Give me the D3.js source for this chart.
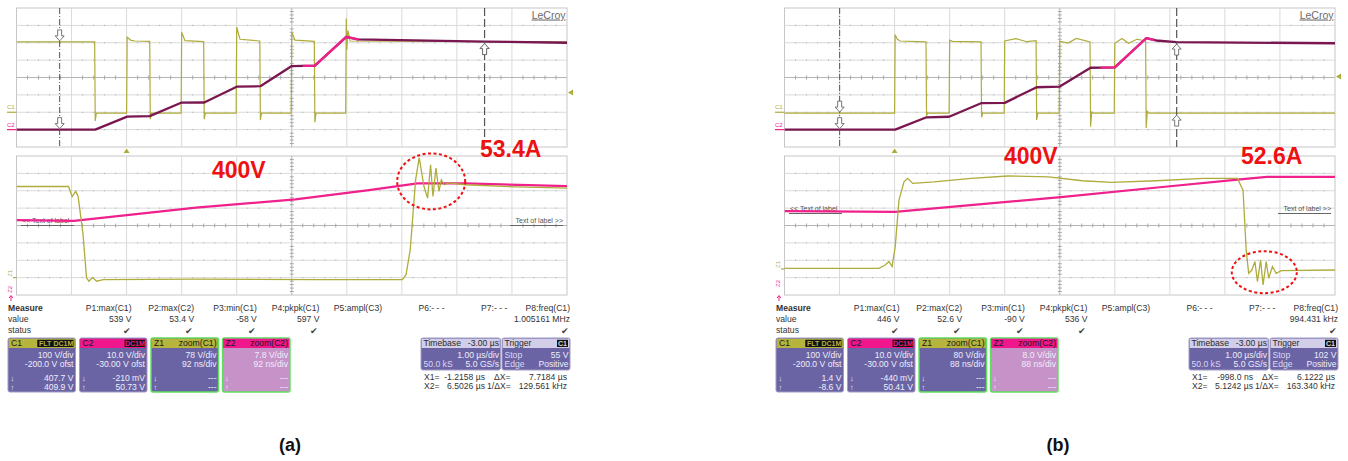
<!DOCTYPE html>
<html>
<head>
<meta charset="utf-8">
<script src="https://cdn.jsdelivr.net/npm/d3@7"></script>
<style>
  html, body { margin: 0; padding: 0; background: #fff; }
  svg { display: block; }
  text { font-family: "Liberation Sans", Arial, sans-serif; }
</style>
</head>
<body>
<svg id="chart" width="1348" height="461"></svg>
<script>
// ---------- Acquisition records ----------
// Main traces: [time µs, value]; C1 in volts, C2 in amps (current probe).
const c1A = [[-2, 405], [-0.58, 405], [-0.57, -50], [-0.55, -5], [0.0, -5], [0.01, 432], [0.08, 414], [0.15, 410],
  [0.42, 408], [0.43, -40], [0.45, -5], [0.99, -5], [1.0, 461], [1.06, 412], [1.40, 407], [1.41, -40], [1.43, -5],
  [1.99, -5], [2.0, 490], [2.06, 420], [2.42, 410], [2.43, -45], [2.45, -5], [2.99, -5], [3.0, 461], [3.06, 415],
  [3.41, 408], [3.42, -58], [3.44, -5], [3.98, -5], [3.99, 539], [4.0, 360], [4.02, 470], [4.06, 410], [8, 405]];
const c2A = [[-2, 0], [-0.57, 0], [0.01, 7.5], [0.42, 7.8], [0.99, 15.5], [1.41, 15.6], [2.0, 24.7], [2.43, 25.0],
  [3.0, 36.6], [3.42, 36.8], [3.99, 53.4], [4.2, 52.0], [6.5, 50.7], [8, 50.0]];

const c1B = [[-2, -5], [0.0, -5], [0.01, 446], [0.05, 420], [0.1, 410], [0.57, 405], [0.58, -20], [0.6, -5],
  [0.99, -5], [1.0, 415], [1.05, 408], [1.57, 405], [1.58, -30], [1.6, -5], [1.99, -5], [2.0, 410], [2.2, 424],
  [2.4, 406], [2.57, 412], [2.58, -45], [2.6, -5], [2.99, -5], [3.0, 408], [3.15, 398], [3.3, 425], [3.55, 405],
  [3.56, -83], [3.58, 0], [3.6, -5], [3.99, -5], [4.0, 397], [4.13, 425], [4.25, 397], [4.4, 420], [4.56, 410],
  [4.57, -90], [4.59, 5], [4.62, -5], [8, -5]];
const c2B = [[-2, 0], [0.01, 0], [0.58, 7.1], [0.99, 7.4], [1.57, 15.2], [2.0, 15.4], [2.58, 24.4], [3.0, 24.8],
  [3.56, 35.6], [4.0, 35.8], [4.57, 52.6], [4.75, 51.3], [5.12, 50.4], [8, 49.7]];

// Zoom traces: [time ns inside zoom window, value]
const z1A = [[0, 409], [87, 409], [93, 364], [99, 387], [103, 364], [111, 200], [117, -1], [121, -16], [127, 0],
  [134, -16], [145, -9], [300, -7], [500, -9], [645, -9], [651, 13], [658, 125], [667, 439], [673, 539], [681, 409],
  [687, 357], [692, 507], [696, 364], [701, 492], [706, 387], [710, 439], [715, 417], [722, 425], [750, 417],
  [836, 407], [920, 402]];
const z2A = [[0, 35.4], [96, 35.1], [300, 41.0], [466, 44.7], [589, 48.9], [670, 51.9], [750, 51.9], [840, 51.2], [920, 50.7]];

const z1B = [[0, 3], [151, 3], [161, 18], [167, 34], [172, 11], [177, 103], [183, 317], [191, 401], [197, 417],
  [205, 394], [239, 401], [298, 417], [357, 428], [422, 424], [476, 406], [523, 399], [594, 406], [670, 417],
  [724, 417], [733, 363], [738, 87], [742, -20], [747, -5], [752, 34], [756, -58], [761, 41], [765, -74], [770, 34],
  [774, -43], [780, 11], [786, -20], [794, -8], [880, -5]];
const z2B = [[0, 35.4], [177, 35.1], [446, 42.0], [600, 46.4], [741, 50.4], [771, 51.2], [880, 51.2]];

// Scope settings per panel
const voltsPerDivC1 = 100, offsetC1 = -200;
const ampsPerDivC2 = 10, offsetC2 = -30;
const zoomA = { z1PerDiv: 78, z2PerDiv: 7.8, nsPerDiv: 92 };
const zoomB = { z1PerDiv: 80, z2PerDiv: 8.0, nsPerDiv: 88 };
const cursorsA = [-1.2158, 6.5026];
const cursorsB = [-0.998, 5.1242];
const zoomWindowA = [3.2, 4.22];
const zoomWindowB = [3.74, 4.72];

// Annotation texts
const voltLabel = "400V";
const peakA = 53.4, peakB = 52.6;
const panelLabels = ["(a)", "(b)"];

// Measurement table
const measureNames = ["P1:max(C1)", "P2:max(C2)", "P3:min(C1)", "P4:pkpk(C1)", "P5:ampl(C3)", "P6:- - -", "P7:- - -", "P8:freq(C1)"];
const measureValuesA = ["539 V", "53.4 V", "-58 V", "597 V", "", "", "", "1.005161 MHz"];
const measureValuesB = ["446 V", "52.6 V", "-90 V", "536 V", "", "", "", "994.431 kHz"];
const measureStatus = [1, 1, 1, 1, 0, 0, 0, 1];

const channelBoxesA = [
  { name: "C1", tags: ["FLT", "DC1M"], right: "", rows: ["100 V/div", "-200.0 V ofst"], cur: ["407.7 V", "409.9 V"] },
  { name: "C2", tags: ["DC1M"], right: "", rows: ["10.0 V/div", "-30.00 V ofst"], cur: ["-210 mV", "50.73 V"] },
  { name: "Z1", tags: [], right: "zoom(C1)", rows: ["78 V/div", "92 ns/div"], cur: ["---", "---"] },
  { name: "Z2", tags: [], right: "zoom(C2)", rows: ["7.8 V/div", "92 ns/div"], cur: ["---", "---"] }
];
const channelBoxesB = [
  { name: "C1", tags: ["FLT", "DC1M"], right: "", rows: ["100 V/div", "-200.0 V ofst"], cur: ["1.4 V", "-8.6 V"] },
  { name: "C2", tags: ["DC1M"], right: "", rows: ["10.0 V/div", "-30.00 V ofst"], cur: ["-440 mV", "50.41 V"] },
  { name: "Z1", tags: [], right: "zoom(C1)", rows: ["80 V/div", "88 ns/div"], cur: ["---", "---"] },
  { name: "Z2", tags: [], right: "zoom(C2)", rows: ["8.0 V/div", "88 ns/div"], cur: ["---", "---"] }
];
const timebaseA = ["-3.00 µs", "1.00 µs/div", "50.0 kS", "5.0 GS/s"];
const timebaseB = ["-3.00 µs", "1.00 µs/div", "50.0 kS", "5.0 GS/s"];
const triggerA = ["Stop", "55 V", "Edge", "Positive"];
const triggerB = ["Stop", "102 V", "Edge", "Positive"];
const readoutA = ["-1.2158 µs", "7.7184 µs", "6.5026 µs", "129.561 kHz"];
const readoutB = ["-998.0 ns", "6.1222 µs", "5.1242 µs", "163.340 kHz"];

// ---------- Drawing ----------
const svg = d3.select("#chart");
const colC1 = "#aeac3a", colC2 = "#7a1650", colPink = "#f0208c", colRed = "#ee1111";
const boxBody = "#6a63a4", boxHeadC1 = "#b6b43c", boxHeadC2 = "#f0168c", boxLight = "#d2cde8";

const PL = 16.5, PR = 567, TY0 = 8, TY1 = 147, BY0 = 156, BY1 = 295;

function interp(arr, t) {
  for (let i = 1; i < arr.length; i++) {
    if (t <= arr[i][0]) {
      const [t0, v0] = arr[i - 1], [t1, v1] = arr[i];
      return v0 + (v1 - v0) * (t - t0) / (t1 - t0);
    }
  }
  return arr[arr.length - 1][1];
}

function drawGrid(g, x0, x1, y0, y1) {
  const gx = d3.scaleLinear().domain([0, 10]).range([x0, x1]);
  const gy = d3.scaleLinear().domain([0, 8]).range([y0, y1]);
  g.append("rect").attr("x", x0).attr("y", y0).attr("width", x1 - x0).attr("height", y1 - y0)
    .attr("fill", "#fff").attr("stroke", "#c6c6c6").attr("stroke-width", 1);
  g.selectAll(null).data(d3.range(1, 10)).join("line")
    .attr("x1", d => gx(d)).attr("x2", d => gx(d)).attr("y1", y0).attr("y2", y1)
    .attr("stroke", d => d === 5 ? "#b4b4b4" : "#dadada").attr("stroke-width", 1);
  g.selectAll(null).data(d3.range(1, 8)).join("line")
    .attr("y1", d => gy(d)).attr("y2", d => gy(d)).attr("x1", x0).attr("x2", x1)
    .attr("stroke", d => d === 4 ? "#b4b4b4" : "#dadada").attr("stroke-width", 1);
  const dots = [];
  for (let j = 1; j < 8; j++) if (j !== 4) for (let k = 1; k < 50; k++) if (k % 5) dots.push([gx(k / 5), gy(j)]);
  g.selectAll(null).data(dots).join("rect")
    .attr("x", d => d[0] - 0.5).attr("y", d => d[1] - 0.5).attr("width", 1).attr("height", 1).attr("fill", "#a8a8a8");
  const hx = [];
  for (let k = 1; k < 50; k++) if (k % 5) hx.push(gx(k / 5));
  g.selectAll(null).data(hx).join("line")
    .attr("x1", d => d).attr("x2", d => d).attr("y1", gy(4) - 2).attr("y2", gy(4) + 2)
    .attr("stroke", "#a8a8a8").attr("stroke-width", 1);
  const vy = [];
  for (let k = 1; k < 40; k++) if (k % 5) vy.push(gy(k / 5));
  g.selectAll(null).data(vy).join("line")
    .attr("y1", d => d).attr("y2", d => d).attr("x1", gx(5) - 2).attr("x2", gx(5) + 2)
    .attr("stroke", "#a8a8a8").attr("stroke-width", 1);
}

function arrowPath(x, y, dir) {
  const s = dir; // 1 = points down to tip, -1 = points up to tip
  const p = [[x - 2, y - 11 * s], [x + 2, y - 11 * s], [x + 2, y - 5 * s], [x + 4.5, y - 5 * s], [x, y],
    [x - 4.5, y - 5 * s], [x - 2, y - 5 * s]];
  return "M" + p.map(d => d.join(",")).join("L") + "Z";
}

function drawPanel(idx, cfg) {
  const ox = idx * 768;
  const g = svg.append("g");

  // --- upper display (C1 / C2 vs time) ---
  const x = d3.scaleLinear().domain([-2, 8]).range([ox + PL, ox + PR]);
  const yC1 = d3.scaleLinear().domain([-offsetC1 - 4 * voltsPerDivC1, -offsetC1 + 4 * voltsPerDivC1]).range([TY1, TY0]);
  const yC2 = d3.scaleLinear().domain([-offsetC2 - 4 * ampsPerDivC2, -offsetC2 + 4 * ampsPerDivC2]).range([TY1, TY0]);
  drawGrid(g, ox + PL, ox + PR, TY0, TY1);

  const clipTop = "clipTop" + idx;
  svg.append("clipPath").attr("id", clipTop).append("rect")
    .attr("x", ox + PL).attr("y", TY0).attr("width", PR - PL).attr("height", TY1 - TY0);
  const clipWin = "clipWin" + idx;
  svg.append("clipPath").attr("id", clipWin).append("rect")
    .attr("x", x(cfg.win[0])).attr("y", TY0).attr("width", x(cfg.win[1]) - x(cfg.win[0])).attr("height", TY1 - TY0);

  const lineC1 = d3.line().x(d => x(d[0])).y(d => yC1(d[1]));
  const lineC2 = d3.line().x(d => x(d[0])).y(d => yC2(d[1]));
  const tg = g.append("g").attr("clip-path", `url(#${clipTop})`);
  tg.append("path").attr("d", lineC1(cfg.c1)).attr("fill", "none").attr("stroke", colC1).attr("stroke-width", 1.2);
  tg.append("path").attr("d", lineC2(cfg.c2)).attr("fill", "none").attr("stroke", colC2).attr("stroke-width", 2.3)
    .attr("stroke-linejoin", "round");
  g.append("path").attr("clip-path", `url(#${clipWin})`).attr("d", lineC2(cfg.c2)).attr("fill", "none")
    .attr("stroke", colPink).attr("stroke-width", 2.3).attr("stroke-linejoin", "round");

  // cursors
  g.append("line").attr("x1", x(cfg.cursors[0])).attr("x2", x(cfg.cursors[0])).attr("y1", TY0).attr("y2", TY1)
    .attr("stroke", "#555").attr("stroke-width", 1).attr("stroke-dasharray", "6,2,1,2");
  g.append("line").attr("x1", x(cfg.cursors[1])).attr("x2", x(cfg.cursors[1])).attr("y1", TY0).attr("y2", TY1)
    .attr("stroke", "#555").attr("stroke-width", 1.2).attr("stroke-dasharray", "8,3");
  const arrows = [
    [x(cfg.cursors[0]), yC1(interp(cfg.c1, cfg.cursors[0])) - 1, 1],
    [x(cfg.cursors[0]), yC2(interp(cfg.c2, cfg.cursors[0])) - 1, 1],
    [x(cfg.cursors[1]), yC2(interp(cfg.c2, cfg.cursors[1])) + 2, -1],
    [x(cfg.cursors[1]), yC1(interp(cfg.c1, cfg.cursors[1])) + 2, -1]
  ];
  g.selectAll(null).data(arrows).join("path").attr("d", d => arrowPath(d[0], d[1], d[2]))
    .attr("fill", "#fff").attr("stroke", "#666").attr("stroke-width", 0.9);

  // channel markers on the left edge
  g.append("text").attr("x", ox + 7).attr("y", yC1(0) - 3).attr("font-size", 6).attr("fill", colC1).text("C1");
  g.append("line").attr("x1", ox + 7).attr("x2", ox + PL).attr("y1", yC1(0)).attr("y2", yC1(0)).attr("stroke", colC1).attr("stroke-width", 1.2);
  g.append("text").attr("x", ox + 7).attr("y", yC2(0) - 3).attr("font-size", 6).attr("fill", colPink).text("C2");
  g.append("line").attr("x1", ox + 7).attr("x2", ox + PL).attr("y1", yC2(0)).attr("y2", yC2(0)).attr("stroke", colPink).attr("stroke-width", 1.2);
  // trigger level and trigger time markers
  g.append("path").attr("d", `M${ox + PR + 1},${cfg.trigY}l5,-3l0,6z`).attr("fill", colC1);
  g.append("path").attr("d", `M${x(0)},${TY1 + 1.5}l3,4.5l-6,0z`).attr("fill", colC1);
  // brand
  g.append("text").attr("x", ox + PR - 1.5).attr("y", 18.5).attr("text-anchor", "end").attr("font-size", 10.5)
    .attr("fill", "#6a6a6a").attr("text-decoration", "underline").text("LeCroy");

  // --- lower display (zoom traces) ---
  const xz = d3.scaleLinear().domain([0, 10 * cfg.zoom.nsPerDiv]).range([ox + PL, ox + PR]);
  const yZ1 = d3.scaleLinear().domain([-cfg.z1Zero * cfg.zoom.z1PerDiv, (8 - cfg.z1Zero) * cfg.zoom.z1PerDiv]).range([BY1, BY0]);
  const yZ2 = d3.scaleLinear().domain([-cfg.z2Zero * cfg.zoom.z2PerDiv, (8 - cfg.z2Zero) * cfg.zoom.z2PerDiv]).range([BY1, BY0]);
  drawGrid(g, ox + PL, ox + PR, BY0, BY1);

  // trace labels
  const ly = cfg.labelY;
  g.append("text").attr("x", ox + 22).attr("y", ly).attr("font-size", 7).attr("fill", "#555").text("<< Text of label");
  g.append("line").attr("x1", ox + 21).attr("x2", ox + 74).attr("y1", ly + 2.5).attr("y2", ly + 2.5).attr("stroke", "#666").attr("stroke-width", 1);
  g.append("text").attr("x", ox + 563).attr("y", ly).attr("text-anchor", "end").attr("font-size", 7).attr("fill", "#555").text("Text of label >>");
  g.append("line").attr("x1", ox + 510).attr("x2", ox + 563).attr("y1", ly + 2.5).attr("y2", ly + 2.5).attr("stroke", "#666").attr("stroke-width", 1);

  const clipBot = "clipBot" + idx;
  svg.append("clipPath").attr("id", clipBot).append("rect")
    .attr("x", ox + PL).attr("y", BY0).attr("width", PR - PL).attr("height", BY1 - BY0);
  const bg = g.append("g").attr("clip-path", `url(#${clipBot})`);
  const lineZ1 = d3.line().x(d => xz(d[0])).y(d => yZ1(d[1]));
  const lineZ2 = d3.line().x(d => xz(d[0])).y(d => yZ2(d[1]));
  bg.append("path").attr("d", lineZ2(cfg.z2)).attr("fill", "none").attr("stroke", colPink).attr("stroke-width", 2.2);
  bg.append("path").attr("d", lineZ1(cfg.z1)).attr("fill", "none").attr("stroke", colC1).attr("stroke-width", 1.3);

  g.append("text").attr("transform", `translate(${ox + 12},${yZ1(0) - 1}) rotate(-90)`).attr("font-size", 6).attr("fill", colC1).text("Z1");
  g.append("line").attr("x1", ox + 13).attr("x2", ox + PL).attr("y1", yZ1(0)).attr("y2", yZ1(0)).attr("stroke", colC1).attr("stroke-width", 1.2);
  g.append("text").attr("transform", `translate(${ox + 12},${cfg.z2MarkY}) rotate(-90)`).attr("font-size", 6).attr("fill", colPink).text("Z2");
  g.append("path").attr("d", `M${ox + 11},${BY1 + 1}l0,5M${ox + 9},${BY1 + 3}l2,-2.5l2,2.5`).attr("fill", "none").attr("stroke", colPink).attr("stroke-width", 1);

  // dashed ring around the switching oscillation
  g.append("ellipse").attr("cx", xz(cfg.ring[0])).attr("cy", yZ1(cfg.ring[1])).attr("rx", cfg.ring[2]).attr("ry", cfg.ring[3])
    .attr("fill", "none").attr("stroke", colRed).attr("stroke-width", 2).attr("stroke-dasharray", "3,2.5");

  // annotations
  g.append("text").attr("x", ox + cfg.voltPos[0]).attr("y", cfg.voltPos[1]).attr("font-size", 23).attr("font-weight", "bold")
    .attr("fill", colRed).text(voltLabel);
  g.append("text").attr("x", ox + cfg.ampPos[0]).attr("y", cfg.ampPos[1]).attr("font-size", 23).attr("font-weight", "bold")
    .attr("fill", colRed).text(cfg.peak.toFixed(1) + "A");

  // --- measurement area ---
  const mg = g.append("g").attr("font-size", 8.6).attr("fill", "#333");
  mg.append("text").attr("x", ox + 8).attr("y", 311).attr("font-weight", "bold").text("Measure");
  mg.append("text").attr("x", ox + 8).attr("y", 322).text("value");
  mg.append("text").attr("x", ox + 8).attr("y", 333).text("status");
  const colX = d3.scaleLinear().domain([0, 7]).range([ox + 131.5, ox + 570]);
  mg.selectAll(null).data(measureNames).join("text").attr("x", (d, i) => colX(i)).attr("y", 311)
    .attr("text-anchor", "end").text(d => d);
  mg.selectAll(null).data(cfg.values).join("text").attr("x", (d, i) => colX(i)).attr("y", 322)
    .attr("text-anchor", "end").text(d => d);
  mg.selectAll(null).data(measureStatus.map((s, i) => [s, i]).filter(d => d[0])).join("text")
    .attr("x", d => colX(d[1]) - 1).attr("y", 334).attr("text-anchor", "end").attr("font-size", 9)
    .attr("font-family", "DejaVu Sans").attr("fill", "#444").text("✔");

  // channel descriptor boxes
  const boxX = [8, 79.5, 151, 222.5];
  cfg.boxes.forEach((b, i) => {
    const bx = ox + boxX[i], bw = 67.5, by = 338, bh = 54;
    const zoomBox = b.name[0] === "Z";
    const pinkish = b.name === "C2" || b.name === "Z2";
    const bgc = g.append("g");
    bgc.append("rect").attr("x", bx).attr("y", by).attr("width", bw).attr("height", bh).attr("rx", 2)
      .attr("fill", b.name === "Z2" ? "#c692c8" : boxBody)
      .attr("stroke", zoomBox ? "#5ede5e" : "#a09cc4").attr("stroke-width", zoomBox ? 1.4 : 1);
    bgc.append("rect").attr("x", bx + 0.7).attr("y", by + 0.7).attr("width", bw - 1.4).attr("height", 9.3)
      .attr("fill", pinkish ? boxHeadC2 : boxHeadC1);
    bgc.append("text").attr("x", bx + 3).attr("y", by + 8.4).attr("font-size", 8.6).attr("fill", "#1a1a1a").text(b.name);
    if (b.right) bgc.append("text").attr("x", bx + bw - 2).attr("y", by + 8.4).attr("text-anchor", "end")
      .attr("font-size", 8.6).attr("fill", "#1a1a1a").text(b.right);
    let tx = bx + bw - 2;
    b.tags.slice().reverse().forEach(t => {
      const tw = t.length * 4.6 + 2;
      bgc.append("rect").attr("x", tx - tw).attr("y", by + 1.8).attr("width", tw).attr("height", 7.2).attr("fill", "#111");
      bgc.append("text").attr("x", tx - tw / 2).attr("y", by + 8).attr("text-anchor", "middle").attr("font-size", 7)
        .attr("font-weight", "bold").attr("fill", pinkish ? boxHeadC2 : boxHeadC1).text(t);
      tx -= tw;
    });
    const txtCol = "#eeeefa";
    bgc.selectAll(null).data(b.rows).join("text").attr("x", bx + bw - 2).attr("y", (d, k) => by + 19.5 + k * 9.5)
      .attr("text-anchor", "end").attr("font-size", 8.6).attr("fill", txtCol).text(d => d);
    bgc.selectAll(null).data(b.cur).join("text").attr("x", bx + bw - 2).attr("y", (d, k) => by + 42.5 + k * 9.5)
      .attr("text-anchor", "end").attr("font-size", 8.6).attr("fill", txtCol).text(d => d);
    bgc.selectAll(null).data(["↓", "↑"]).join("text").attr("x", bx + 2.5).attr("y", (d, k) => by + 42.5 + k * 9.5)
      .attr("font-size", 7.5).attr("font-family", "DejaVu Sans").attr("fill", txtCol).text(d => d);
  });

  // timebase and trigger boxes
  const tb = [[421, "Timebase", cfg.timebase[0], [["", cfg.timebase[1]], [cfg.timebase[2], cfg.timebase[3]]], false],
              [502, "Trigger", "C1", [[cfg.trigger[0], cfg.trigger[1]], [cfg.trigger[2], cfg.trigger[3]]], true]];
  tb.forEach(([bxr, title, right, rows, badge]) => {
    const bx = ox + bxr, bw = bxr === 421 ? 79.5 : 68, by = 338, bh = 32;
    g.append("rect").attr("x", bx).attr("y", by).attr("width", bw).attr("height", bh).attr("rx", 2)
      .attr("fill", boxBody).attr("stroke", "#a09cc4");
    g.append("rect").attr("x", bx + 0.7).attr("y", by + 0.7).attr("width", bw - 1.4).attr("height", 9.3).attr("fill", boxLight);
    g.append("text").attr("x", bx + 2.5).attr("y", by + 8.4).attr("font-size", 8.6).attr("fill", "#2a2a2a").text(title);
    if (badge) {
      g.append("rect").attr("x", bx + bw - 13).attr("y", by + 1.8).attr("width", 11).attr("height", 7.2).attr("fill", "#111");
      g.append("text").attr("x", bx + bw - 7.5).attr("y", by + 8).attr("text-anchor", "middle").attr("font-size", 7)
        .attr("font-weight", "bold").attr("fill", "#ddd").text(right);
    } else {
      g.append("text").attr("x", bx + bw - 1.5).attr("y", by + 8.4).attr("text-anchor", "end").attr("font-size", 8.6)
        .attr("fill", "#2a2a2a").text(right);
    }
    rows.forEach((r, k) => {
      g.append("text").attr("x", bx + 2.5).attr("y", by + 19.5 + k * 9.5).attr("font-size", 8.6).attr("fill", "#dcd8f2").text(r[0]);
      g.append("text").attr("x", bx + bw - 1.5).attr("y", by + 19.5 + k * 9.5).attr("text-anchor", "end")
        .attr("font-size", 8.6).attr("fill", "#eeeefa").text(r[1]);
    });
  });

  // cursor readout
  const rg = g.append("g").attr("font-size", 8.6).attr("fill", "#333");
  rg.append("text").attr("x", ox + 424).attr("y", 379.5).text("X1=");
  rg.append("text").attr("x", ox + 485).attr("y", 379.5).attr("text-anchor", "end").text(cfg.readout[0]);
  rg.append("text").attr("x", ox + 494).attr("y", 379.5).text("ΔX=");
  rg.append("text").attr("x", ox + 567).attr("y", 379.5).attr("text-anchor", "end").text(cfg.readout[1]);
  rg.append("text").attr("x", ox + 424).attr("y", 388.5).text("X2=");
  rg.append("text").attr("x", ox + 485).attr("y", 388.5).attr("text-anchor", "end").text(cfg.readout[2]);
  rg.append("text").attr("x", ox + 487).attr("y", 388.5).text("1/ΔX=");
  rg.append("text").attr("x", ox + 567).attr("y", 388.5).attr("text-anchor", "end").text(cfg.readout[3]);

  // panel caption
  g.append("text").attr("x", ox + 290).attr("y", 451).attr("text-anchor", "middle").attr("font-size", 18)
    .attr("font-weight", "bold").attr("fill", "#111").text(panelLabels[idx]);
}

drawPanel(0, {
  c1: c1A, c2: c2A, z1: z1A, z2: z2A, zoom: zoomA, cursors: cursorsA, win: zoomWindowA,
  z1Zero: 1.0, z2Zero: -0.23, z2MarkY: 293, labelY: 223, trigY: 92.5,
  ring: [693, 432, 34, 28], voltPos: [212, 177.5], ampPos: [480, 157], peak: peakA,
  values: measureValuesA, boxes: channelBoxesA, timebase: timebaseA, trigger: triggerA, readout: readoutA
});
drawPanel(1, {
  c1: c1B, c2: c2B, z1: z1B, z2: z2B, zoom: zoomB, cursors: cursorsB, win: zoomWindowB,
  z1Zero: 1.5, z2Zero: 0.4, z2MarkY: 287, labelY: 211, trigY: 76.5,
  ring: [767, -15, 32.5, 21], voltPos: [236, 164], ampPos: [473, 164], peak: peakB,
  values: measureValuesB, boxes: channelBoxesB, timebase: timebaseB, trigger: triggerB, readout: readoutB
});
</script>
</body>
</html>
